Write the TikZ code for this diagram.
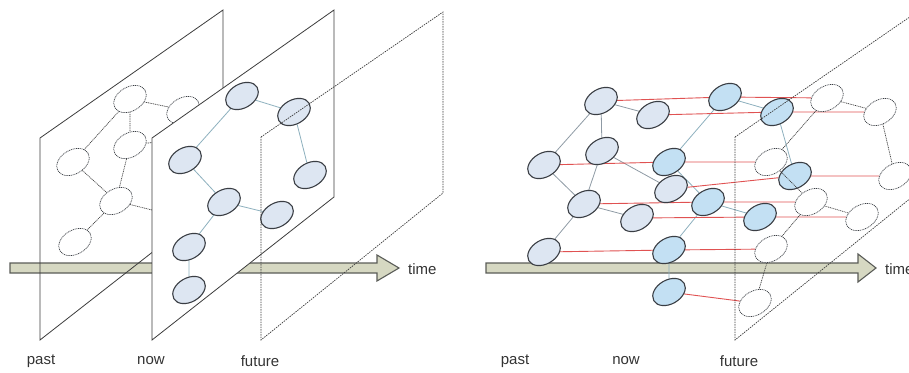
\documentclass[tikz,border=0pt]{standalone}
\usepackage{fontspec}
\setmainfont{Liberation Sans}
\usetikzlibrary{shapes.geometric}
\pgfdeclarelayer{L0}\pgfdeclarelayer{L1}\pgfdeclarelayer{L2}
\pgfdeclarelayer{L3}\pgfdeclarelayer{L4}\pgfdeclarelayer{L5}
\pgfsetlayers{L0,L1,L2,L3,L4,L5,main}
\definecolor{pastfill}{HTML}{DDE6F2}
\definecolor{nowfill}{HTML}{C3E0F3}
\definecolor{nodeline}{HTML}{3A3E44}
\definecolor{edgeblue}{HTML}{8DB0BE}
\definecolor{edgegray}{HTML}{8E9AA4}
\definecolor{redline}{HTML}{E05252}
\definecolor{arrowfill}{HTML}{D6D8C2}
\definecolor{arrowline}{HTML}{5A5C58}
\definecolor{planeline}{HTML}{3C3C3C}
\definecolor{labeltext}{HTML}{333333}
\tikzset{
  gnode/.style={ellipse, rotate=30, minimum width=35pt, minimum height=24pt, inner sep=0pt, line width=1.1pt},
  palenode/.style={gnode, draw=nodeline, fill=pastfill},
  bluenode/.style={gnode, draw=nodeline, fill=nowfill},
  dotnode/.style={gnode, draw=nodeline, fill=white, line width=0.7pt, dash pattern=on 1pt off 0.8pt},
  plane/.style={draw=planeline, line width=0.8pt},
  nowplane/.style={plane, fill=white},
  futplane/.style={draw=planeline, line width=0.7pt, dash pattern=on 1.5pt off 1pt},
  timearrow/.style={fill=arrowfill, draw=arrowline, line width=1.1pt},
  dotedge/.style={draw=planeline, line width=0.7pt, dash pattern=on 1pt off 0.8pt},
  blueedge/.style={draw=edgeblue, line width=0.8pt},
  grayedge/.style={draw=edgegray, line width=0.8pt},
  rededge/.style={draw=redline, line width=0.9pt},
  lbl/.style={font=\fontsize{15}{17}\selectfont, text=labeltext, inner sep=0pt}
}
\begin{document}
\begin{tikzpicture}[x=1pt,y=-1pt]
\useasboundingbox (0,0) rectangle (909,372);

% ================= LEFT PANEL =================
\begin{pgfonlayer}{L0}
  \draw[timearrow] (10,263) -- (377,263) -- (377,255) -- (399,268) -- (377,281) -- (377,273) -- (10,273) -- cycle;
  \draw[plane] (40,138) -- (223,10) -- (223,197) -- (40,340) -- cycle;
\end{pgfonlayer}
\begin{pgfonlayer}{L2}
  \node[dotnode] (P1) at (130,99) {};
  \node[dotnode] (P2) at (183,110) {};
  \node[dotnode] (P3) at (130,145) {};
  \node[dotnode] (P4) at (73,162) {};
  \node[dotnode] (P5) at (116,201) {};
  \node[dotnode] (P6) at (75,242) {};
\end{pgfonlayer}
\coordinate (p7) at (168,214);
\coordinate (p8) at (175,140);
\begin{pgfonlayer}{L1}
  \draw[dotedge] (P1) -- (P2);
  \draw[dotedge] (P1) -- (P3);
  \draw[dotedge] (P1) -- (P4);
  \draw[dotedge] (P3) -- (P5);
  \draw[dotedge] (P4) -- (P5);
  \draw[dotedge] (P5) -- (P6);
  \draw[dotedge] (P5) -- (p7);
  \draw[dotedge] (P3) -- (p8);
\end{pgfonlayer}
\begin{pgfonlayer}{L3}
  \draw[nowplane] (152,138) -- (334,10) -- (334,197) -- (152,340) -- cycle;
\end{pgfonlayer}
\begin{pgfonlayer}{L5}
  \node[palenode] (N1) at (242,96) {};
  \node[palenode] (N2) at (294,112) {};
  \node[palenode] (N3) at (185,160) {};
  \node[palenode] (N4) at (310,175) {};
  \node[palenode] (N5) at (224,202) {};
  \node[palenode] (N6) at (277,215) {};
  \node[palenode] (N7) at (189,247) {};
  \node[palenode] (N8) at (189,290) {};
\end{pgfonlayer}
\begin{pgfonlayer}{L4}
  \draw[blueedge] (N1) -- (N2);
  \draw[blueedge] (N1) -- (N3);
  \draw[blueedge] (N2) -- (N4);
  \draw[blueedge] (N3) -- (N5);
  \draw[blueedge] (N5) -- (N6);
  \draw[blueedge] (N5) -- (N7);
  \draw[blueedge] (N7) -- (N8);
\end{pgfonlayer}
\draw[futplane] (261,137) -- (443,12) -- (443,193) -- (261,340) -- cycle;

\node[lbl, anchor=west] (tl) at (408,269) {time};
\node[lbl] (l1) at (41,361) {past};
\node[lbl] (l2) at (151,361) {now};
\node[lbl] (l3) at (260,361) {future};

% ================= RIGHT PANEL =================
\begin{pgfonlayer}{L0}
  \draw[timearrow] (486,263) -- (858,263) -- (858,254) -- (876,268) -- (858,282) -- (858,273) -- (486,273) -- cycle;
\end{pgfonlayer}
\begin{pgfonlayer}{L2}
  \node[palenode] (A1) at (601,101) {};
  \node[palenode] (A2) at (653,115) {};
  \node[palenode] (A3) at (602,151) {};
  \node[palenode] (A4) at (544,165) {};
  \node[palenode] (A5) at (584,204) {};
  \node[palenode] (A6) at (637,218) {};
  \node[palenode] (A7) at (544,252) {};
  \node[palenode] (A8) at (671,189) {};
  \node[bluenode] (B1) at (725,97) {};
  \node[bluenode] (B2) at (669,162) {};
  \node[bluenode] (B3) at (708,202) {};
  \node[bluenode] (B4) at (669,250) {};
  \node[bluenode] (B5) at (669,292) {};
  \node[bluenode] (B6) at (777,112) {};
  \node[bluenode] (B7) at (795,176) {};
  \node[bluenode] (B8) at (760,217) {};
\end{pgfonlayer}
\begin{pgfonlayer}{L4}
  \node[dotnode] (F1) at (827,98) {};
  \node[dotnode] (F2) at (880,112) {};
  \node[dotnode] (F3) at (771,162) {};
  \node[dotnode] (F4) at (895,176) {};
  \node[dotnode] (F5) at (811,202) {};
  \node[dotnode] (F6) at (862,217) {};
  \node[dotnode] (F7) at (771,249) {};
  \node[dotnode] (F8) at (755,303) {};
\end{pgfonlayer}
\begin{pgfonlayer}{L1}
  \draw[grayedge] (A1) -- (A2);
  \draw[grayedge] (A1) -- (A3);
  \draw[grayedge] (A1) -- (A4);
  \draw[grayedge] (A3) -- (A5);
  \draw[grayedge] (A4) -- (A5);
  \draw[grayedge] (A5) -- (A6);
  \draw[grayedge] (A5) -- (A7);
  \draw[grayedge] (A3) -- (A8);
  \draw[blueedge] (B1) -- (B6);
  \draw[blueedge] (B1) -- (B2);
  \draw[blueedge] (B6) -- (B7);
  \draw[blueedge] (B2) -- (B3);
  \draw[blueedge] (B3) -- (B8);
  \draw[blueedge] (B3) -- (B4);
  \draw[blueedge] (B4) -- (B5);
  \draw[rededge] (A1) -- (B1);
  \draw[rededge] (B1) -- (F1);
  \draw[rededge] (A2) -- (B6);
  \draw[rededge] (B6) -- (F2);
  \draw[rededge] (A4) -- (B2);
  \draw[rededge] (B2) -- (F3);
  \draw[rededge] (A8) -- (B7);
  \draw[rededge] (B7) -- (F4);
  \draw[rededge] (A5) -- (B3);
  \draw[rededge] (B3) -- (F5);
  \draw[rededge] (A6) -- (B8);
  \draw[rededge] (B8) -- (F6);
  \draw[rededge] (A7) -- (B4);
  \draw[rededge] (B4) -- (F7);
  \draw[rededge] (B5) -- (F8);
\end{pgfonlayer}
\begin{pgfonlayer}{L3}
  \draw[dotedge] (F1) -- (F2);
  \draw[dotedge] (F1) -- (F3);
  \draw[dotedge] (F2) -- (F4);
  \draw[dotedge] (F3) -- (F5);
  \draw[dotedge] (F5) -- (F6);
  \draw[dotedge] (F5) -- (F7);
  \draw[dotedge] (F7) -- (F8);
\end{pgfonlayer}
\draw[futplane] (735,137) -- (917,12) -- (917,193) -- (735,340) -- cycle;

\node[lbl, anchor=west] (tr) at (885,269) {time};
\node[lbl] (r1) at (515,361) {past};
\node[lbl] (r2) at (626,361) {now};
\node[lbl] (r3) at (739,361) {future};
\end{tikzpicture}
\end{document}
